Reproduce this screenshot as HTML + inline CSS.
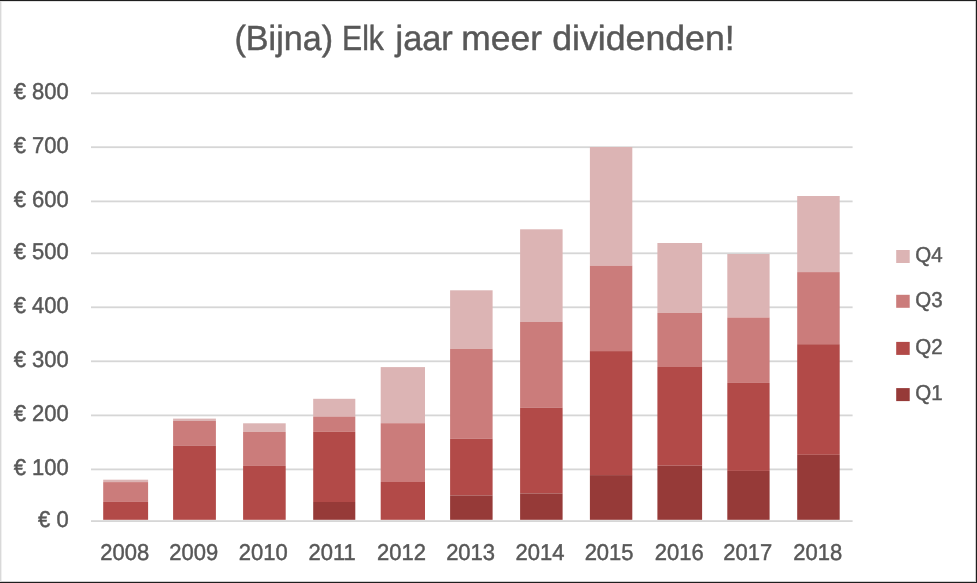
<!DOCTYPE html>
<html><head><meta charset="utf-8"><style>
html,body{margin:0;padding:0;background:#fff;}
body{width:977px;height:583px;overflow:hidden;position:relative;}
svg{position:absolute;left:0;top:0;}
svg text{font-family:"Liberation Sans",sans-serif;fill:#585858;stroke:#585858;stroke-width:0.45px;text-rendering:geometricPrecision;}
</style></head><body>
<svg width="977" height="583" viewBox="0 0 977 583">
<rect x="0" y="0" width="977" height="583" fill="#fff"/>
<rect x="91" y="92.40" width="761.6" height="1.8" fill="#d6d6d6"/>
<rect x="91" y="146.30" width="761.6" height="1.8" fill="#d6d6d6"/>
<rect x="91" y="200.50" width="761.6" height="1.8" fill="#d6d6d6"/>
<rect x="91" y="252.40" width="761.6" height="1.8" fill="#d6d6d6"/>
<rect x="91" y="306.40" width="761.6" height="1.8" fill="#d6d6d6"/>
<rect x="91" y="360.40" width="761.6" height="1.8" fill="#d6d6d6"/>
<rect x="91" y="414.50" width="761.6" height="1.8" fill="#d6d6d6"/>
<rect x="91" y="468.50" width="761.6" height="1.8" fill="#d6d6d6"/>
<rect x="91" y="520.20" width="761.6" height="1.8" fill="#d6d6d6"/>
<rect x="103.20" y="479.70" width="44.90" height="2.40" fill="#dcb4b4"/>
<rect x="103.20" y="482.10" width="44.90" height="19.80" fill="#cb7c7b"/>
<rect x="103.20" y="501.90" width="44.90" height="17.90" fill="#b24a48"/>
<rect x="173.10" y="418.60" width="42.80" height="2.40" fill="#dcb4b4"/>
<rect x="173.10" y="421.00" width="42.80" height="24.50" fill="#cb7c7b"/>
<rect x="173.10" y="445.50" width="42.80" height="74.30" fill="#b24a48"/>
<rect x="243.10" y="423.30" width="42.60" height="8.60" fill="#dcb4b4"/>
<rect x="243.10" y="431.90" width="42.60" height="34.00" fill="#cb7c7b"/>
<rect x="243.10" y="465.90" width="42.60" height="53.90" fill="#b24a48"/>
<rect x="313.20" y="398.80" width="42.10" height="17.80" fill="#dcb4b4"/>
<rect x="313.20" y="416.60" width="42.10" height="15.20" fill="#cb7c7b"/>
<rect x="313.20" y="431.80" width="42.10" height="70.20" fill="#b24a48"/>
<rect x="313.20" y="502.00" width="42.10" height="17.80" fill="#963a38"/>
<rect x="380.70" y="367.10" width="44.30" height="56.10" fill="#dcb4b4"/>
<rect x="380.70" y="423.20" width="44.30" height="58.80" fill="#cb7c7b"/>
<rect x="380.70" y="482.00" width="44.30" height="37.80" fill="#b24a48"/>
<rect x="450.10" y="290.30" width="42.50" height="58.60" fill="#dcb4b4"/>
<rect x="450.10" y="348.90" width="42.50" height="89.80" fill="#cb7c7b"/>
<rect x="450.10" y="438.70" width="42.50" height="56.70" fill="#b24a48"/>
<rect x="450.10" y="495.40" width="42.50" height="24.40" fill="#963a38"/>
<rect x="520.10" y="229.30" width="42.50" height="92.70" fill="#dcb4b4"/>
<rect x="520.10" y="322.00" width="42.50" height="85.60" fill="#cb7c7b"/>
<rect x="520.10" y="407.60" width="42.50" height="85.80" fill="#b24a48"/>
<rect x="520.10" y="493.40" width="42.50" height="26.40" fill="#963a38"/>
<rect x="589.90" y="147.00" width="42.40" height="118.70" fill="#dcb4b4"/>
<rect x="589.90" y="265.70" width="42.40" height="85.40" fill="#cb7c7b"/>
<rect x="589.90" y="351.10" width="42.40" height="124.00" fill="#b24a48"/>
<rect x="589.90" y="475.10" width="42.40" height="44.70" fill="#963a38"/>
<rect x="657.40" y="243.00" width="44.70" height="69.90" fill="#dcb4b4"/>
<rect x="657.40" y="312.90" width="44.70" height="54.10" fill="#cb7c7b"/>
<rect x="657.40" y="367.00" width="44.70" height="98.70" fill="#b24a48"/>
<rect x="657.40" y="465.70" width="44.70" height="54.10" fill="#963a38"/>
<rect x="727.30" y="254.00" width="42.30" height="63.50" fill="#dcb4b4"/>
<rect x="727.30" y="317.50" width="42.30" height="65.40" fill="#cb7c7b"/>
<rect x="727.30" y="382.90" width="42.30" height="88.00" fill="#b24a48"/>
<rect x="727.30" y="470.90" width="42.30" height="48.90" fill="#963a38"/>
<rect x="797.20" y="196.00" width="42.50" height="76.10" fill="#dcb4b4"/>
<rect x="797.20" y="272.10" width="42.50" height="72.10" fill="#cb7c7b"/>
<rect x="797.20" y="344.20" width="42.50" height="110.60" fill="#b24a48"/>
<rect x="797.20" y="454.80" width="42.50" height="65.00" fill="#963a38"/>
<rect x="896.2" y="250.00" width="13.5" height="13" fill="#dcb4b4"/>
<rect x="896.2" y="294.80" width="13.5" height="13" fill="#cb7c7b"/>
<rect x="896.2" y="341.90" width="13.5" height="13" fill="#b24a48"/>
<rect x="896.2" y="388.10" width="13.5" height="13" fill="#963a38"/>
<g opacity="0.999">
<text transform="translate(68.70,98.70) scale(0.965,1)" text-anchor="end" style="font-size:22.8px">€ 800</text>
<text transform="translate(68.70,152.60) scale(0.965,1)" text-anchor="end" style="font-size:22.8px">€ 700</text>
<text transform="translate(68.70,206.80) scale(0.965,1)" text-anchor="end" style="font-size:22.8px">€ 600</text>
<text transform="translate(68.70,258.70) scale(0.965,1)" text-anchor="end" style="font-size:22.8px">€ 500</text>
<text transform="translate(68.70,312.70) scale(0.965,1)" text-anchor="end" style="font-size:22.8px">€ 400</text>
<text transform="translate(68.70,366.70) scale(0.965,1)" text-anchor="end" style="font-size:22.8px">€ 300</text>
<text transform="translate(68.70,420.80) scale(0.965,1)" text-anchor="end" style="font-size:22.8px">€ 200</text>
<text transform="translate(68.70,474.80) scale(0.965,1)" text-anchor="end" style="font-size:22.8px">€ 100</text>
<text transform="translate(68.70,526.50) scale(0.965,1)" text-anchor="end" style="font-size:22.8px">€ 0</text>
<text transform="translate(124.80,559.50) scale(0.965,1)" text-anchor="middle" style="font-size:22.8px">2008</text>
<text transform="translate(193.80,559.50) scale(0.965,1)" text-anchor="middle" style="font-size:22.8px">2009</text>
<text transform="translate(263.30,559.50) scale(0.965,1)" text-anchor="middle" style="font-size:22.8px">2010</text>
<text transform="translate(332.10,559.50) scale(0.965,1)" text-anchor="middle" style="font-size:22.8px">2011</text>
<text transform="translate(401.40,559.50) scale(0.965,1)" text-anchor="middle" style="font-size:22.8px">2012</text>
<text transform="translate(470.60,559.50) scale(0.965,1)" text-anchor="middle" style="font-size:22.8px">2013</text>
<text transform="translate(540.00,559.50) scale(0.965,1)" text-anchor="middle" style="font-size:22.8px">2014</text>
<text transform="translate(609.10,559.50) scale(0.965,1)" text-anchor="middle" style="font-size:22.8px">2015</text>
<text transform="translate(679.20,559.50) scale(0.965,1)" text-anchor="middle" style="font-size:22.8px">2016</text>
<text transform="translate(747.70,559.50) scale(0.965,1)" text-anchor="middle" style="font-size:22.8px">2017</text>
<text transform="translate(817.70,559.50) scale(0.965,1)" text-anchor="middle" style="font-size:22.8px">2018</text>
<text transform="translate(915.20,262.20) scale(0.95,1)" text-anchor="start" style="font-size:21.6px">Q4</text>
<text transform="translate(915.20,307.00) scale(0.95,1)" text-anchor="start" style="font-size:21.6px">Q3</text>
<text transform="translate(915.20,354.10) scale(0.95,1)" text-anchor="start" style="font-size:21.6px">Q2</text>
<text transform="translate(915.20,400.30) scale(0.95,1)" text-anchor="start" style="font-size:21.6px">Q1</text>
<text transform="translate(234.44,50.00) scale(0.9804,1)" text-anchor="start" style="font-size:34.8px">(Bijna)</text>
<text transform="translate(342.00,50.00) scale(0.8674,1)" text-anchor="start" style="font-size:34.8px">Elk</text>
<text transform="translate(395.49,50.00) scale(0.9881,1)" text-anchor="start" style="font-size:34.8px">jaar</text>
<text transform="translate(461.37,50.00) scale(1.0169,1)" text-anchor="start" style="font-size:34.8px">meer</text>
<text transform="translate(552.28,50.00) scale(1.0247,1)" text-anchor="start" style="font-size:34.8px">dividenden!</text>
</g>
<rect x="1" y="0" width="1" height="583" fill="#f0f0f0"/>
<rect x="0" y="1" width="977" height="1" fill="#e2e2e2"/>
<rect x="975" y="0" width="1" height="583" fill="#cfcfcf"/>
<rect x="0" y="581" width="977" height="1" fill="#cfcfcf"/>
<rect x="0" y="0" width="1" height="583" fill="#d9d9d9"/>
<rect x="0" y="0" width="977" height="1" fill="#1e1e1e"/>
<rect x="976" y="0" width="1" height="583" fill="#1e1e1e"/>
<rect x="0" y="582" width="977" height="1" fill="#1e1e1e"/>
</svg>
</body></html>
